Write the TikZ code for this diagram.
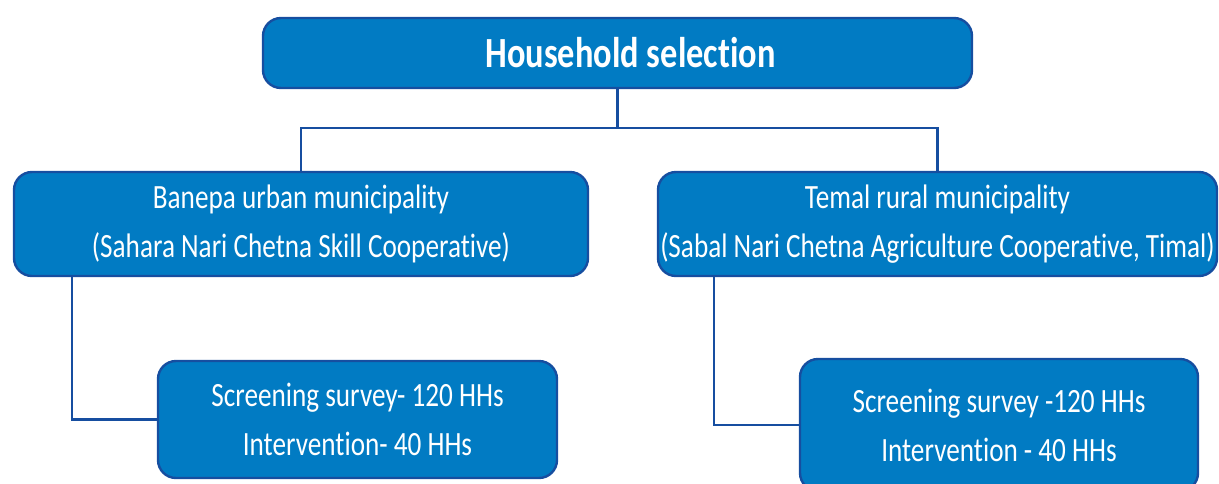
\documentclass[tikz,border=0pt]{standalone}
\usepackage{fontspec}
\setmainfont[FakeStretch=0.8, Ligatures=NoCommon]{Carlito}
\usetikzlibrary{positioning, calc}
\definecolor{boxblue}{RGB}{1,123,195}
\definecolor{edgeblue}{RGB}{22,78,160}

\begin{document}
\begin{tikzpicture}[
        x=0.5pt, y=-0.5pt,
        box/.style={rectangle, draw=edgeblue, fill=boxblue, line width=1.2pt, rounded corners=9pt, text=white, align=center, inner sep=0pt, font=\fontsize{17}{24.5}\selectfont},
        link/.style={draw=edgeblue, line width=1.3pt}
    ]
        \clip (0,0) rectangle (1219,483);
        \node[box, minimum width=354.5pt, minimum height=35pt, font=\fontsize{21.5}{25}\selectfont\bfseries] (household) at (617.5,53) {\hspace*{13pt}Household selection};
        \node[box, minimum width=287pt, minimum height=52pt] (banepa) at (301,224) {Banepa urban municipality\\(Sahara Nari Chetna Skill Cooperative)};
        \node[box, minimum width=279.5pt, minimum height=52pt] (temal) at (937.5,224) {Temal rural municipality\\(Sabal Nari Chetna Agriculture Cooperative, Timal)};
        \node[box, minimum width=199.5pt, minimum height=58.5pt] (banepahh) at (357.5,419.5) {Screening survey- 120 HHs\\Intervention- 40 HHs};
        \node[box, minimum width=199pt, minimum height=66pt, text depth=0pt] (temalhh) at (999,425) {Screening survey -120 HHs\\Intervention - 40 HHs};

        \coordinate (split) at (617.5,128);
        \draw[link] (household.south) -- (split);
        \draw[link] (banepa.north) |- (split) -| (temal.north);
        \draw[link] ($(banepa.south west)+(59,0)$) |- (banepahh.west);
        \draw[link] ($(temal.south west)+(57,0)$) |- (temalhh.west);
    \end{tikzpicture}
\end{document}
